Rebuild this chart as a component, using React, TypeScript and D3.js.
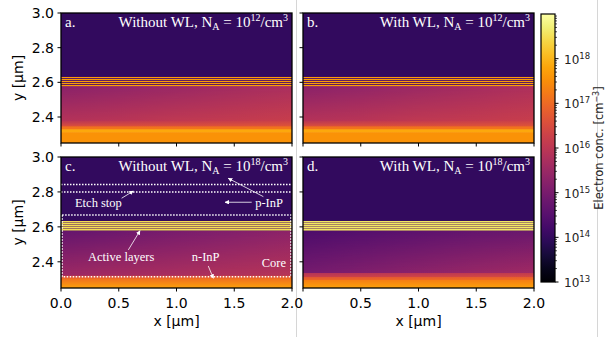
import { useEffect } from "react";
import * as d3 from "d3";

// ─── Data ────────────────────────────────────────────────────────────────────
const xTicks = [0, 0.5, 1.0, 1.5, 2.0];
const yTicks = [2.4, 2.6, 2.8, 3.0];
const xDomain: [number, number] = [0, 2];
const yDomain: [number, number] = [2.25, 3.0];
const logDomain: [number, number] = [13, 19];
const cbarDecades = [13, 14, 15, 16, 17, 18];

// [yTop, yBottom, log n top-left, top-right, bottom-left, bottom-right]
type Band = [number, number, number, number, number, number];

const bandsA: Band[] = [
  [3.0, 2.633, 14.0, 14.0, 14.0, 14.0],
  [2.633, 2.578, 14.3, 14.3, 14.3, 14.3],
  [2.578, 2.38, 15.25, 15.75, 15.9, 16.2],
  [2.38, 2.346, 15.95, 16.25, 16.6, 16.7],
  [2.346, 2.329, 17.1, 17.1, 17.2, 17.2],
  [2.329, 2.312, 17.85, 17.85, 17.85, 17.85],
  [2.312, 2.25, 17.55, 17.55, 17.55, 17.55],
];

const bandsB: Band[] = [
  [3.0, 2.633, 14.0, 14.0, 14.0, 14.0],
  [2.633, 2.578, 14.3, 14.3, 14.3, 14.3],
  [2.578, 2.38, 15.25, 15.8, 15.9, 16.2],
  [2.38, 2.346, 15.95, 16.25, 16.6, 16.7],
  [2.346, 2.329, 17.1, 17.1, 17.2, 17.2],
  [2.329, 2.312, 17.85, 17.85, 17.85, 17.85],
  [2.312, 2.25, 17.55, 17.55, 17.55, 17.55],
];

const bandsC: Band[] = [
  [3.0, 2.633, 14.0, 14.0, 14.0, 14.0],
  [2.633, 2.578, 14.3, 14.3, 14.3, 14.3],
  [2.578, 2.32, 14.7, 15.3, 15.55, 15.95],
  [2.32, 2.305, 16.5, 16.6, 16.9, 17.0],
  [2.305, 2.25, 17.1, 17.1, 17.8, 17.8],
];

const bandsD: Band[] = [
  [3.0, 2.633, 14.0, 14.0, 14.0, 14.0],
  [2.633, 2.578, 14.4, 14.4, 14.4, 14.4],
  [2.578, 2.336, 14.35, 14.8, 14.95, 15.6],
  [2.336, 2.313, 15.9, 16.1, 16.3, 16.5],
  [2.313, 2.296, 16.7, 16.8, 17.0, 17.1],
  [2.296, 2.25, 17.3, 17.3, 17.8, 17.8],
];

// quantum wells of the active region
const wellCenters = [2.629, 2.617, 2.606, 2.594, 2.583];
const wellLogs = [17.7, 17.7, 18.5, 18.6];
// how much each well bleeds into the row below (resampling of the original)
const wellBleed = [0.12, 0.12, 0.5, 0.55];

const panelLetters = ["a.", "b.", "c.", "d."];
const panelCases = ["Without WL", "With WL", "Without WL", "With WL"];
const panelDoping = ["12", "12", "18", "18"];

// panel c annotations (data coordinates)
const etchLines = [2.843, 2.8];
const coreBox = { x0: 0.01, x1: 1.99, yTop: 2.668, yBottom: 2.315 };
const arrows: [number, number, number, number][] = [
  [0.525, 2.764, 0.626, 2.805],
  [1.651, 2.741, 1.42, 2.741],
  [1.752, 2.773, 1.448, 2.878],
  [0.583, 2.468, 0.684, 2.578],
  [1.275, 2.376, 1.319, 2.306],
];
const annotLabels: [string, number, number, string][] = [
  ["Etch stop", 0.121, 2.716, "start"],
  ["p-InP", 1.922, 2.716, "end"],
  ["Active layers", 0.234, 2.405, "start"],
  ["n-InP", 1.132, 2.405, "start"],
  ["Core", 1.738, 2.373, "start"],
];

// ─── Layout ──────────────────────────────────────────────────────────────────
const W = 605;
const H = 337;
const panelBoxes = [
  { left: 61, right: 292, top: 13, bottom: 143 },
  { left: 303, right: 534, top: 13, bottom: 143 },
  { left: 61, right: 292, top: 157, bottom: 288 },
  { left: 303, right: 534, top: 157, bottom: 288 },
];
const cbar = { left: 541, right: 555, top: 14, bottom: 282 };
const sans = "'DejaVu Sans', sans-serif";
const serif = "'Liberation Serif', 'DejaVu Serif', serif";

const color = (v: number) =>
  d3.interpolateInferno((v - logDomain[0]) / (logDomain[1] - logDomain[0]));

function gradStops(a: number, b: number) {
  return [0, 0.25, 0.5, 0.75, 1].map((t) => (
    <stop key={t} offset={t} stopColor={color(a + (b - a) * t)} />
  ));
}

interface PanelProps {
  idx: number;
  bands: Band[];
}

function Panel({ idx, bands }: PanelProps) {
  const box = panelBoxes[idx];
  const x = d3.scaleLinear().domain(xDomain).range([box.left, box.right]);
  const y = d3.scaleLinear().domain(yDomain).range([box.bottom, box.top]);
  const w = box.right - box.left;
  const id = `p${idx}`;
  const row = idx >= 2;
  const col = idx % 2 === 0;

  return (
    <g>
      <defs>
        <clipPath id={`${id}-clip`}>
          <rect x={box.left} y={box.top} width={w} height={box.bottom - box.top} />
        </clipPath>
        {bands.map((b, i) => (
          <g key={i}>
            <linearGradient id={`${id}-t${i}`} x1="0" x2="1" y1="0" y2="0">
              {gradStops(b[2], b[3])}
            </linearGradient>
            <linearGradient id={`${id}-b${i}`} x1="0" x2="1" y1="0" y2="0">
              {gradStops(b[4], b[5])}
            </linearGradient>
          </g>
        ))}
      </defs>

      {/* concentration map */}
      <g clipPath={`url(#${id}-clip)`}>
        {bands.map((b, i) => {
          const y0 = y(b[0]);
          const y1 = y(b[1]);
          const vary = b[2] !== b[4] || b[3] !== b[5];
          return (
            <g key={i}>
              <rect x={box.left} y={y0} width={w} height={y1 - y0 + 0.6} fill={`url(#${id}-t${i})`} />
              {vary && (
                <rect
                  x={box.left}
                  y={y0}
                  width={w}
                  height={y1 - y0 + 0.6}
                  fill={`url(#${id}-b${i})`}
                  mask="url(#vfade)"
                />
              )}
            </g>
          );
        })}
        {wellCenters.map((c) => {
          const py = Math.floor(y(c));
          return (
            <g key={c} shapeRendering="crispEdges">
              <rect x={box.left} y={py} width={w} height={1} fill={color(wellLogs[idx])} />
              <rect
                x={box.left}
                y={py + 1}
                width={w}
                height={1}
                fill={color(wellLogs[idx])}
                fillOpacity={wellBleed[idx]}
              />
            </g>
          );
        })}
      </g>

      {idx === 2 && <Annotations x={x} y={y} />}

      {/* frame */}
      <rect
        x={box.left}
        y={box.top}
        width={w}
        height={box.bottom - box.top}
        fill="none"
        stroke="#000"
        strokeWidth={1.3}
      />

      {/* ticks */}
      {xTicks.map((t, i) => (
        <g key={`x${t}`}>
          <line x1={x(t)} x2={x(t)} y1={box.bottom} y2={box.bottom + 3.5} stroke="#000" strokeWidth={1} />
          {row && (col || i > 0) && (
            <text x={x(t)} y={box.bottom + 20} textAnchor="middle" fontFamily={sans} fontSize={14}>
              {t.toFixed(1)}
            </text>
          )}
        </g>
      ))}
      {yTicks.map((t) => (
        <g key={`y${t}`}>
          <line x1={box.left - 3.5} x2={box.left} y1={y(t)} y2={y(t)} stroke="#000" strokeWidth={1} />
          {col && (
            <text x={box.left - 7} y={y(t) + 5} textAnchor="end" fontFamily={sans} fontSize={14}>
              {t.toFixed(1)}
            </text>
          )}
        </g>
      ))}
      {col && (
        <text
          transform={`translate(23,${(box.top + box.bottom) / 2}) rotate(-90)`}
          textAnchor="middle"
          fontFamily={sans}
          fontSize={14}
        >
          y [µm]
        </text>
      )}
      {row && (
        <text
          x={(box.left + box.right) / 2}
          y={box.bottom + 38}
          textAnchor="middle"
          fontFamily={sans}
          fontSize={14}
        >
          x [µm]
        </text>
      )}

      {/* panel titles */}
      <text x={box.left + 4} y={box.top + 14} fill="#fff" fontFamily={serif} fontSize={15}>
        {panelLetters[idx]}
      </text>
      <text x={box.right - 4} y={box.top + 14} fill="#fff" fontFamily={serif} fontSize={15} textAnchor="end">
        {panelCases[idx]}, N
        <tspan dy={3} fontSize={10}>A</tspan>
        <tspan dy={-3}> = 10</tspan>
        <tspan dy={-6} fontSize={10}>{panelDoping[idx]}</tspan>
        <tspan dy={6}>/cm</tspan>
        <tspan dy={-6} fontSize={10}>3</tspan>
      </text>
    </g>
  );
}

function Annotations({ x, y }: { x: d3.ScaleLinear<number, number>; y: d3.ScaleLinear<number, number> }) {
  const dot = { stroke: "#fff", strokeWidth: 1.5, strokeDasharray: "1.5 1.5", fill: "none" };
  return (
    <g>
      {etchLines.map((v) => (
        <line key={v} x1={x(0)} x2={x(2)} y1={y(v)} y2={y(v)} {...dot} />
      ))}
      <rect
        x={x(coreBox.x0)}
        y={y(coreBox.yTop)}
        width={x(coreBox.x1) - x(coreBox.x0)}
        height={y(coreBox.yBottom) - y(coreBox.yTop)}
        {...dot}
      />
      {arrows.map((a, i) => (
        <line
          key={i}
          x1={x(a[0])}
          y1={y(a[1])}
          x2={x(a[2])}
          y2={y(a[3])}
          stroke="#fff"
          strokeWidth={0.8}
          markerEnd="url(#arrowhead)"
        />
      ))}
      {annotLabels.map(([txt, ax, ay, anchor]) => (
        <text
          key={txt}
          x={x(ax)}
          y={y(ay)}
          fill="#fff"
          fontFamily={serif}
          fontSize={12.5}
          textAnchor={anchor}
        >
          {txt}
        </text>
      ))}
    </g>
  );
}

function Colorbar() {
  const cy = d3.scaleLinear().domain(logDomain).range([cbar.bottom, cbar.top]);
  const minor: number[] = [];
  d3.range(logDomain[0], logDomain[1]).forEach((d) => {
    for (let k = 2; k <= 9; k++) minor.push(d + Math.log10(k));
  });
  const stops = d3.range(0, 1.0001, 0.05);
  return (
    <g>
      <defs>
        <linearGradient id="cbar-grad" x1="0" x2="0" y1="1" y2="0">
          {stops.map((t) => (
            <stop key={t} offset={t} stopColor={d3.interpolateInferno(t)} />
          ))}
        </linearGradient>
      </defs>
      <rect
        x={cbar.left}
        y={cbar.top}
        width={cbar.right - cbar.left}
        height={cbar.bottom - cbar.top}
        fill="url(#cbar-grad)"
        stroke="#000"
        strokeWidth={1.2}
      />
      {minor.map((m) => (
        <line key={m} x1={cbar.right} x2={cbar.right + 2} y1={cy(m)} y2={cy(m)} stroke="#000" strokeWidth={0.7} />
      ))}
      {cbarDecades.map((d) => (
        <g key={d}>
          <line x1={cbar.right} x2={cbar.right + 3.5} y1={cy(d)} y2={cy(d)} stroke="#000" strokeWidth={1} />
          <text x={cbar.right + 9} y={cy(d) + 5} fontFamily={sans} fontSize={12} fill="#222">
            10
            <tspan dy={-5} fontSize={8.5}>{d}</tspan>
          </text>
        </g>
      ))}
      <text
        transform={`translate(603,${(cbar.top + cbar.bottom) / 2}) rotate(-90)`}
        textAnchor="middle"
        fontFamily={sans}
        fontSize={11.5}
        fill="#222"
      >
        Electron conc. [cm
        <tspan dy={-4} fontSize={8}>−3</tspan>
        <tspan dy={4}>]</tspan>
      </text>
    </g>
  );
}

export default function App() {
  useEffect(() => {
    document.body.style.margin = "0";
  }, []);
  const allBands = [bandsA, bandsB, bandsC, bandsD];

  return (
    <div style={{ position: "absolute", left: 0, top: 0 }}>
      <svg width={W} height={H} viewBox={`0 0 ${W} ${H}`} style={{ display: "block", background: "#fff" }}>
        <defs>
          <linearGradient id="vgrad" x1="0" y1="0" x2="0" y2="1">
            <stop offset="0" stopColor="black" />
            <stop offset="1" stopColor="white" />
          </linearGradient>
          <mask id="vfade" maskContentUnits="objectBoundingBox">
            <rect width="1" height="1" fill="url(#vgrad)" />
          </mask>
          <marker
            id="arrowhead"
            viewBox="0 0 10 10"
            refX="9"
            refY="5"
            markerWidth="4.5"
            markerHeight="4.5"
            markerUnits="userSpaceOnUse"
            orient="auto"
          >
            <path d="M0,0 L10,5 L0,10 Z" fill="#fff" />
          </marker>
        </defs>

        {/* faint separators from the composed figure */}
        <line x1={296.5} x2={296.5} y1={0} y2={H} stroke="#d6d6d6" strokeWidth={1} />
        <line x1={597.5} x2={597.5} y1={0} y2={H} stroke="#d6d6d6" strokeWidth={1} />

        {allBands.map((b, i) => (
          <Panel key={i} idx={i} bands={b} />
        ))}
        <Colorbar />
      </svg>
    </div>
  );
}
